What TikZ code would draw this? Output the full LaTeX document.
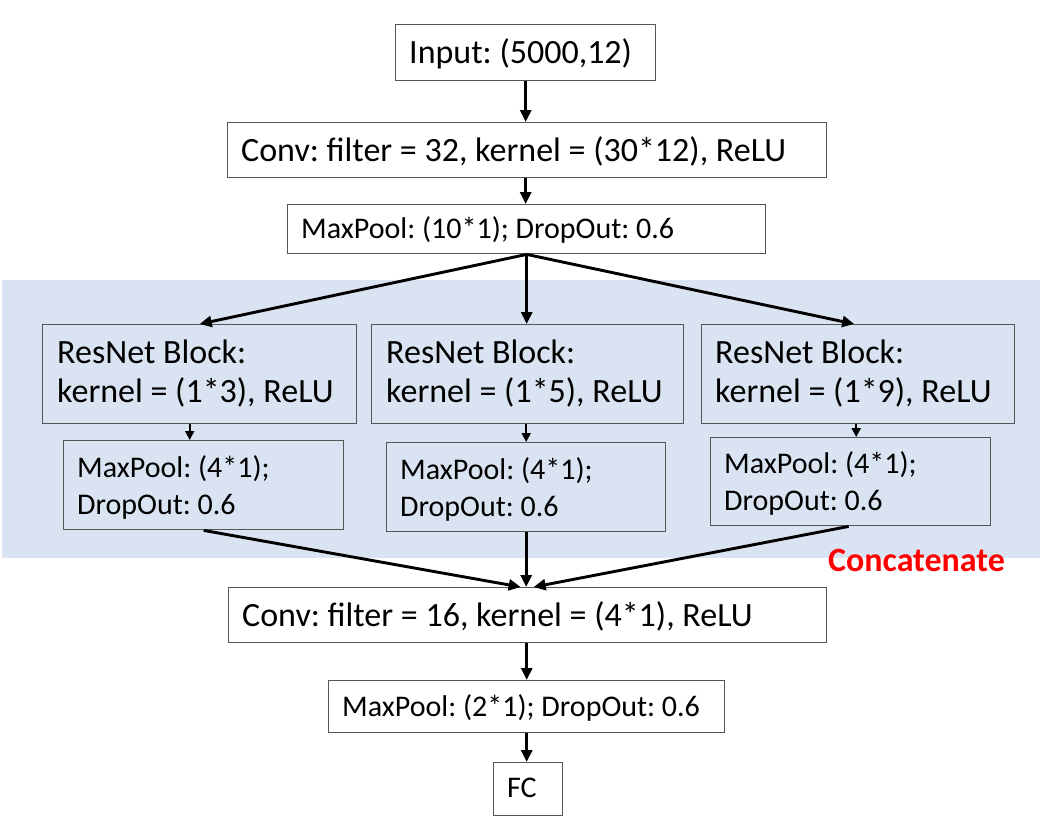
\documentclass[tikz,border=0pt]{standalone}
\usepackage{fontspec}
\setmainfont{Carlito}
\usetikzlibrary{arrows.meta,calc}
\frenchspacing
\definecolor{bandblue}{RGB}{218,227,242}
\definecolor{boxgray}{RGB}{85,85,85}
\definecolor{catred}{RGB}{255,0,0}
\tikzset{
  box/.style={draw=boxgray, line width=1.4pt, rectangle, inner sep=0pt, anchor=north west},
  lbl/.style={anchor=base west, inner sep=0pt, font=\fontsize{34}{39}\selectfont},
  lbls/.style={anchor=base west, inner sep=0pt, font=\fontsize{30}{37}\selectfont},
  arr/.style={-{Triangle[length=12pt,width=11pt]}, line width=2.9pt},
  arrs/.style={-{Triangle[length=9pt,width=9pt]}, line width=2pt},
}
\begin{document}
\begin{tikzpicture}[x=1pt,y=-1pt]
\useasboundingbox (0,0) rectangle (1050,822);
% band
\fill[bandblue] (2,280) rectangle (1040,558);
% boxes
\node[box, minimum width=260pt, minimum height=56pt] (in) at (395,24) {};
\node[box, minimum width=599pt, minimum height=55pt] (c1) at (227,122) {};
\node[box, minimum width=478pt, minimum height=49pt] (mp1) at (287,204) {};
\node[box, minimum width=314pt, minimum height=99pt] (r1) at (42,324) {};
\node[box, minimum width=312pt, minimum height=99pt] (r2) at (371,324) {};
\node[box, minimum width=313pt, minimum height=99pt] (r3) at (701,324) {};
\node[box, minimum width=280pt, minimum height=89pt] (p1) at (63,440) {};
\node[box, minimum width=279pt, minimum height=89pt] (p2) at (386,442) {};
\node[box, minimum width=280pt, minimum height=88pt] (p3) at (710,437) {};
\node[box, minimum width=598pt, minimum height=55pt] (c2) at (228,587) {};
\node[box, minimum width=396pt, minimum height=52pt] (mp4) at (328,680) {};
\node[box, minimum width=69pt, minimum height=53pt] (fc) at (493,762) {};
% texts
\node[lbl] (tin) at (409,63) {Input: (5000,12)};
\node[lbl] (tc1) at (241,161) {Conv: filter = 32, kernel = (30*12), ReLU};
\node[lbls] (tmp1) at (301,238) {MaxPool: (10*1); DropOut: 0.6};
\node[lbl] (tr1a) at (57,363) {ResNet Block:};
\node[lbl] (tr1b) at (57,402) {kernel = (1*3), ReLU};
\node[lbl] (tr2a) at (386,363) {ResNet Block:};
\node[lbl] (tr2b) at (386,402) {kernel = (1*5), ReLU};
\node[lbl] (tr3a) at (715,363) {ResNet Block:};
\node[lbl] (tr3b) at (715,402) {kernel = (1*9), ReLU};
\node[lbls] (tp1a) at (77,477) {MaxPool: (4*1);};
\node[lbls] (tp1b) at (77,514) {DropOut: 0.6};
\node[lbls] (tp2a) at (400,479) {MaxPool: (4*1);};
\node[lbls] (tp2b) at (400,516) {DropOut: 0.6};
\node[lbls] (tp3a) at (724,473) {MaxPool: (4*1);};
\node[lbls] (tp3b) at (724,510) {DropOut: 0.6};
\node[lbl] (tc2) at (242,626) {Conv: filter = 16, kernel = (4*1), ReLU};
\node[lbls] (tmp4) at (342,716) {MaxPool: (2*1); DropOut: 0.6};
\node[lbls] (tfc) at (507,797) {FC};
\node[lbl, font=\fontsize{34}{39}\selectfont\bfseries, text=catred] (cat) at (828,571) {Concatenate};
% connectors
\draw[arr] (in.south) -- (in.south |- c1.north);
\draw[arr] (c1.south -| in.south) -- (in.south |- mp1.north);
\draw[arr] (mp1.south) -- (r1.north);
\draw[arr] (mp1.south) -- (mp1.south |- r2.north);
\draw[arr] (mp1.south) -- ([xshift=-4pt]r3.north);
\draw[arrs] ([xshift=-10pt]r1.south) -- ([xshift=-10pt]r1.south |- p1.north);
\draw[arrs] (p2.north |- r2.south) -- (p2.north);
\draw[arrs] ([xshift=-2pt]r3.south) -- ([xshift=-2pt]r3.south |- p3.north);
\draw[arr] (p1.south) -- ([xshift=-7pt]c2.north);
\draw[arr] (p2.south) -- (p2.south |- c2.north);
\draw[arr] ([xshift=-2pt]p3.south) -- ([xshift=6pt]c2.north);
\draw[arr] (mp4.north |- c2.south) -- (mp4.north);
\draw[arr] (mp4.south) -- (mp4.south |- fc.north);
\end{tikzpicture}
\end{document}
